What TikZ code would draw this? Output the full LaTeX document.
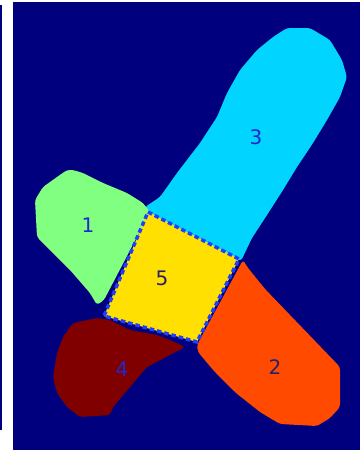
\documentclass[tikz,border=0pt]{standalone}
\usepackage{fontspec}
\setmainfont{DejaVu Sans}
\usepackage{xcolor}
\definecolor{jetnavy}{HTML}{00007F}
\definecolor{jetcyan}{HTML}{00D4FF}
\definecolor{jetgreen}{HTML}{80FF80}
\definecolor{jetyellow}{HTML}{FFE000}
\definecolor{jetorange}{HTML}{FF4A00}
\definecolor{jetmaroon}{HTML}{800000}
\definecolor{jetblue}{HTML}{1F3FFF}
\definecolor{lblblue}{HTML}{2028D0}
\definecolor{lbldark}{HTML}{28206A}

\begin{document}
\begin{tikzpicture}[x=1pt, y=-1pt, font=\fontsize{20}{24}\selectfont]

  \tikzset{region/.style={draw=none, rounded corners=3pt},
           seam/.style={draw=jetblue, line width=3.5pt, dash pattern=on 4.5pt off 3pt},
           lbl/.style={text=lblblue, inner sep=0pt},
           lbldk/.style={text=lbldark, inner sep=0pt}}

  \useasboundingbox (0,0) rectangle (360,451);
  \fill[white] (0,0) rectangle (360,451);
  \fill[jetnavy] (0,5) rectangle (1.5,430);
  \fill[jetnavy] (13,2) rectangle (360,450);

  % region 3, the long arm
  \fill[region, jetcyan] (145,207) -- (160,197) -- (177,173) -- (200,143) -- (217,117)
    -- (227,93) -- (240,70) -- (257,50) -- (273,37) -- (287,28) -- (310,28) -- (330,40)
    -- (342,60) -- (347,77) -- (340,97) -- (327,120) -- (313,143) -- (297,167)
    -- (283,190) -- (267,215) -- (252,238) -- (241,261) -- (146,214) -- cycle;

  % region 1
  \fill[region, jetgreen] (73,170) -- (83,173) -- (103,183) -- (127,193) -- (143,203)
    -- (150,212) -- (104,300) -- (97,305) -- (90,293) -- (70,270) -- (47,247)
    -- (37,237) -- (35,200) -- (43,187) -- (57,177) -- (67,170) -- cycle;

  % region 4
  \fill[region, jetmaroon] (73,323) -- (97,318) -- (110,320) -- (130,330) -- (157,335)
    -- (177,343) -- (185,347) -- (170,355) -- (147,367) -- (130,387) -- (113,407)
    -- (110,415) -- (80,417) -- (67,407) -- (57,393) -- (53,377) -- (57,353)
    -- (63,337) -- cycle;

  % region 2
  \fill[region, jetorange] (243,260) -- (197,345) -- (198,352) -- (214,371) -- (236,393)
    -- (260,412) -- (280,424) -- (317,426) -- (330,418) -- (340,407) -- (340,367)
    -- (315,341) -- (290,315) -- (265,289) -- (248,268) -- cycle;

  % region 5 and its seam
  \fill[jetyellow] (148,212) -- (239,259) -- (197,342) -- (104,316) -- cycle;
  \draw[seam] (148,212) -- (239,259) -- (197,342) -- (104,316) -- cycle;

  \node[lbl]   (r1) at (88,225)  {1};
  \node[lbldk] (r2) at (275,367) {2};
  \node[lbl]   (r3) at (256,137) {3};
  \node[lbl]   (r4) at (122,369) {4};
  \node[lbldk] (r5) at (162,278) {5};

\end{tikzpicture}
\end{document}
